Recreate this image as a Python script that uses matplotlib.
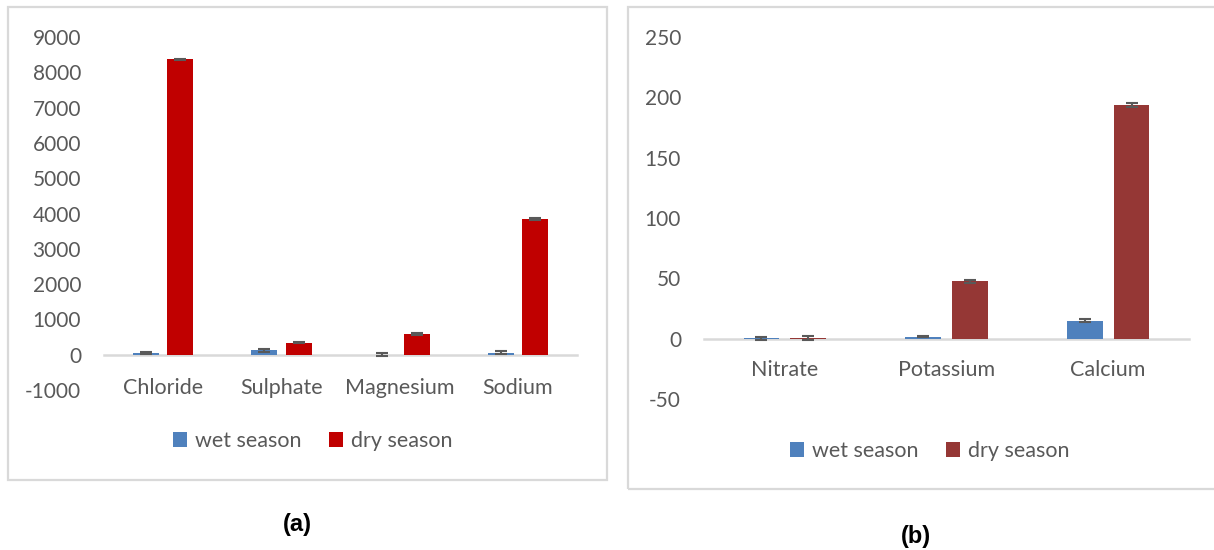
import matplotlib
matplotlib.use('Agg')
import matplotlib.pyplot as plt
from matplotlib.patches import Rectangle
import numpy as np

plt.rcParams['font.family'] = ['Lato', 'DejaVu Sans']
plt.rcParams['axes.unicode_minus'] = False

# panel (a)
ions_a = ['Chloride', 'Sulphate', 'Magnesium', 'Sodium']
wet_a = [50, 120, 5, 60]
dry_a = [8370, 345, 580, 3850]
wet_a_err = [30, 45, 50, 40]
dry_a_err = [15, 20, 35, 35]
yticks_a = [-1000, 0, 1000, 2000, 3000, 4000, 5000, 6000, 7000, 8000, 9000]

# panel (b)
ions_b = ['Nitrate', 'Potassium', 'Calcium']
wet_b = [0.2, 1.5, 14.8]
dry_b = [0.3, 47.5, 193.5]
wet_b_err = [1.0, 0.5, 1.3]
dry_b_err = [1.6, 1.5, 1.6]
yticks_b = [-50, 0, 50, 100, 150, 200, 250]

W, H = 1214, 550
GREY = '#595959'
LIGHT = '#D9D9D9'
BLUE = '#4F81BD'


def px_rect(x0, y0, x1, y1):
    # pixel box (top-left origin) -> figure fraction
    return [x0 / W, 1 - y1 / H, (x1 - x0) / W, (y1 - y0) / H]


def draw_panel(ax, cats, wet, dry, wet_err, dry_err, dry_color, yticks, label_pad):
    x = np.arange(len(cats))
    w = 0.22
    gap = 0.035
    ax.bar(x - w / 2 - gap, wet, w, color=BLUE, zorder=2, label='wet season')
    ax.bar(x + w / 2 + gap, dry, w, color=dry_color, zorder=2, label='dry season')
    ax.errorbar(x - w / 2 - gap, wet, yerr=wet_err, fmt='none', ecolor=GREY,
                elinewidth=1.5, capsize=4.3, capthick=1.5, zorder=3)
    ax.errorbar(x + w / 2 + gap, dry, yerr=dry_err, fmt='none', ecolor=GREY,
                elinewidth=1.5, capsize=4.3, capthick=1.5, zorder=3)
    ax.set_xlim(-0.5, len(cats) - 0.5)
    ax.set_ylim(yticks[0], yticks[-1])
    ax.set_yticks(yticks)
    ax.set_xticks(x)
    ax.set_xticklabels(cats)
    for s in ['top', 'right', 'left']:
        ax.spines[s].set_visible(False)
    ax.spines['bottom'].set_position(('data', 0))
    ax.spines['bottom'].set_color(LIGHT)
    ax.spines['bottom'].set_linewidth(1.8)
    ax.spines['bottom'].set_zorder(1)
    ax.tick_params(axis='y', length=0, pad=16.5, labelsize=15, labelcolor=GREY)
    ax.tick_params(axis='x', length=0, pad=label_pad, labelsize=15.5, labelcolor=GREY)
    ax.set_facecolor('none')


fig = plt.figure(figsize=(W / 100, H / 100), dpi=100)

# outer frames
fig.patches.append(Rectangle((8 / W, 1 - 480 / H), 599 / W, 473 / H, transform=fig.transFigure,
                             fill=False, edgecolor=LIGHT, linewidth=1.6))
fig.patches.append(Rectangle((628 / W, 1 - 489 / H), 600 / W, 482 / H, transform=fig.transFigure,
                             fill=False, edgecolor=LIGHT, linewidth=1.6))

ax1 = fig.add_axes(px_rect(104, 37, 577, 390))
draw_panel(ax1, ions_a, wet_a, dry_a, wet_a_err, dry_a_err, '#C00000', yticks_a, 17)
ax1.legend(loc='center', bbox_to_anchor=(313 / W, 1 - 441 / H), bbox_transform=fig.transFigure,
           ncol=2, frameon=False, fontsize=15.5, labelcolor=GREY, handlelength=0.65,
           handleheight=0.65, handletextpad=0.35, columnspacing=1.3)

ax2 = fig.add_axes(px_rect(704, 37, 1189, 399))
draw_panel(ax2, ions_b, wet_b, dry_b, wet_b_err, dry_b_err, '#953735', yticks_b, 15.5)
ax2.legend(loc='center', bbox_to_anchor=(930 / W, 1 - 451 / H), bbox_transform=fig.transFigure,
           ncol=2, frameon=False, fontsize=15.5, labelcolor=GREY, handlelength=0.65,
           handleheight=0.65, handletextpad=0.35, columnspacing=1.3)

fig.text(297 / W, 1 - 525 / H, '(a)', ha='center', va='center', fontsize=17,
         fontweight='bold', family=['Liberation Sans', 'DejaVu Sans'])
fig.text(916 / W, 1 - 537 / H, '(b)', ha='center', va='center', fontsize=17,
         fontweight='bold', family=['Liberation Sans', 'DejaVu Sans'])

fig.savefig('out.png', dpi=100)
